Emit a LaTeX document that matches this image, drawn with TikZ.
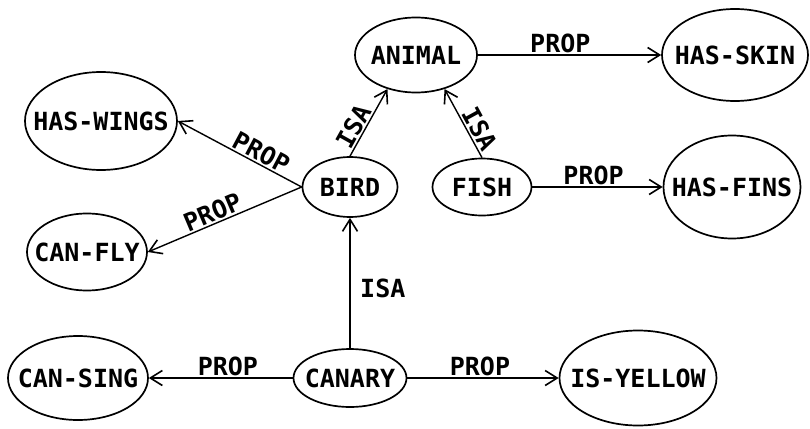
\documentclass[tikz,border=0pt]{standalone}
\usepackage{fontspec}
\newfontfamily\netfont{DejaVu Sans Mono}
\usetikzlibrary{shapes.geometric, arrows.meta, positioning}
\newcommand{\cname}[1]{\makebox[0pt]{#1}}

\begin{document}
\begin{tikzpicture}[
  concept/.style={draw, ellipse, on grid, line width=1.7pt, inner sep=0pt,
    font=\netfont\bfseries\fontsize{25}{25}\selectfont},
  link/.style={-{Straight Barb[length=12pt, width=15pt, line width=1.6pt]}, line width=1.4pt},
  rel/.style={font=\netfont\bfseries\fontsize{25}{25}\selectfont, inner sep=1.5pt}
]

% Top row
\node[concept, minimum width=122pt, minimum height=75pt] (animal) {\cname{ANIMAL}};
\node[concept, minimum width=146pt, minimum height=92pt, right=319pt of animal] (hasskin) {\cname{HAS-SKIN}};

% Middle row
\node[concept, minimum width=95pt, minimum height=60pt, below left=132pt and 66pt of animal] (bird) {\cname{BIRD}};
\node[concept, minimum width=99pt, minimum height=57pt, right=132pt of bird] (fish) {\cname{FISH}};
\node[concept, minimum width=137pt, minimum height=103pt, right=250pt of fish] (hasfins) {\cname{HAS-FINS}};
\node[concept, minimum width=152pt, minimum height=98pt, above left=66pt and 249pt of bird] (haswings) {\cname{HAS-WINGS}};
\node[concept, minimum width=120pt, minimum height=77pt, below left=65pt and 263pt of bird] (canfly) {\cname{CAN-FLY}};

% Bottom row
\node[concept, minimum width=113pt, minimum height=58pt, below=191pt of bird] (canary) {\cname{CANARY}};
\node[concept, minimum width=140pt, minimum height=84pt, left=272pt of canary] (cansing) {\cname{CAN-SING}};
\node[concept, minimum width=157pt, minimum height=95pt, right=288pt of canary] (isyellow) {\cname{IS-YELLOW}};

% ISA links
\draw[link] (bird.north) -- (animal.230) node[rel, pos=0.36, sloped, above] {ISA};
\draw[link] (fish.north) -- (animal.310) node[rel, pos=0.34, sloped, above] {ISA};
\draw[link] (canary) -- (bird) node[rel, pos=0.46, right=8pt] {ISA};

% PROP links
\draw[link] (animal.east) -- (hasskin.west) node[rel, pos=0.45, above] {PROP};
\draw[link] (fish.east) -- (hasfins.west) node[rel, pos=0.47, above] {PROP};
\draw[link] (bird.west) -- (haswings.east) node[rel, pos=0.37, sloped, above] {PROP};
\draw[link] (bird.west) -- (canfly.east) node[rel, pos=0.55, sloped, above] {PROP};
\draw[link] (canary) -- (cansing) node[rel, pos=0.45, above] {PROP};
\draw[link] (canary) -- (isyellow) node[rel, pos=0.48, above] {PROP};

\useasboundingbox (-416pt,55pt) rectangle (394pt,-373pt);
\end{tikzpicture}
\end{document}
